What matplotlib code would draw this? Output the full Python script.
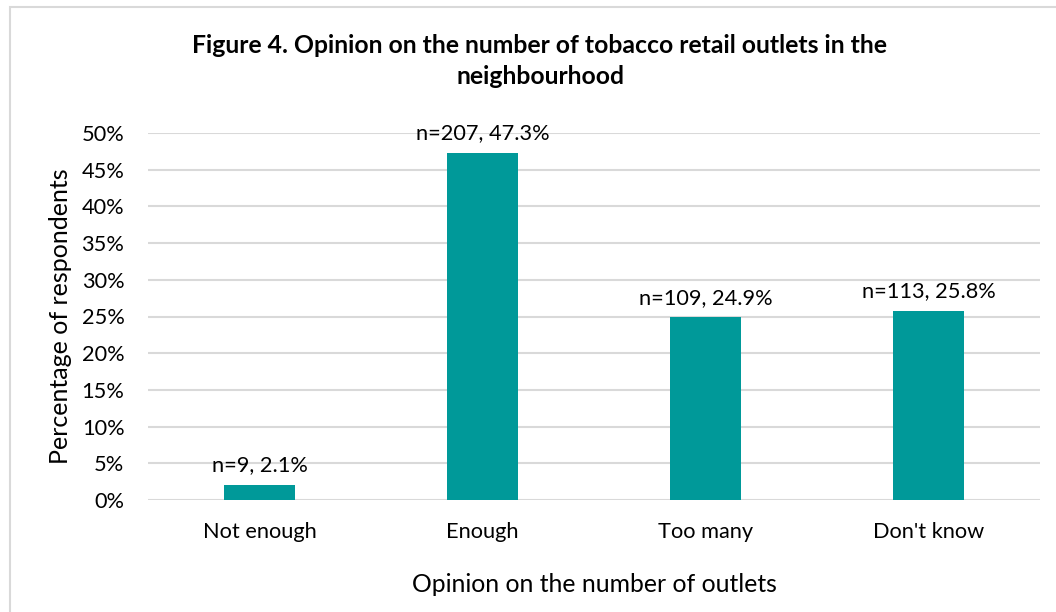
import matplotlib.pyplot as plt
from matplotlib.ticker import PercentFormatter
from matplotlib.patches import Rectangle

# Responses about tobacco retail outlets
categories = ["Not enough", "Enough", "Too many", "Don't know"]
counts = [9, 207, 109, 113]
percents = [2.1, 47.3, 24.9, 25.8]
yticks = [0, 5, 10, 15, 20, 25, 30, 35, 40, 45, 50]

bar_color = "#009999"
grid_color = "#d9d9d9"

plt.rcParams['font.family'] = ['Lato', 'DejaVu Sans']

fig = plt.figure(figsize=(10.56, 6.12), dpi=100)
ax = fig.add_axes([148 / 1056, 1 - 500 / 612, (1040 - 148) / 1056, (500 - 133) / 612])

x = range(len(categories))
ax.bar(x, percents, width=0.32, color=bar_color, zorder=3)

# value labels above each bar
for xi, n, p in zip(x, counts, percents):
    ax.text(xi, p + 1.3, f"n={n}, {p}%", ha='center', va='bottom', fontsize=15.7)

ax.set_xlim(-0.5, 3.5)
ax.set_ylim(0, 50)
ax.set_yticks(yticks)
ax.yaxis.set_major_formatter(PercentFormatter(decimals=0))
ax.set_xticks(list(x))
ax.set_xticklabels(categories)
ax.tick_params(axis='both', length=0, labelsize=15.7)
ax.tick_params(axis='x', pad=16)
ax.tick_params(axis='y', pad=17)
ax.grid(axis='y', color=grid_color, linewidth=1.5, zorder=0)
for s in ax.spines.values():
    s.set_visible(False)

ax.set_xlabel("Opinion on the number of outlets", fontsize=17.8, labelpad=22)
ax.set_ylabel("Percentage of respondents", fontsize=18, labelpad=7)

fig.text(540 / 1056, 1 - 61 / 612,
         "Figure 4. Opinion on the number of tobacco retail outlets in the\nneighbourhood",
         ha='center', va='center', fontsize=17.8, fontweight='bold', linespacing=1.45)

# light frame around the chart
fig.patches.append(Rectangle((10 / 1056, -0.05), 1.1, 1 - 7 / 612 + 0.05,
                             transform=fig.transFigure, fill=False,
                             edgecolor=grid_color, linewidth=1.5))

fig.savefig("out.png", dpi=100)
